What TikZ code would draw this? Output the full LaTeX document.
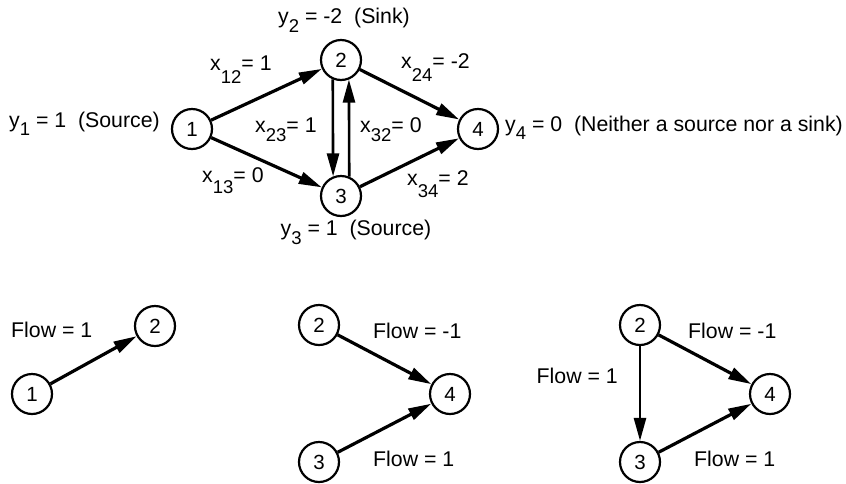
\documentclass[tikz,border=0pt]{standalone}
\usepackage{fontspec}
\setmainfont{Liberation Sans}
\usetikzlibrary{arrows.meta}
\newcommand\lowsub[2]{\raisebox{-#1pt}{\fontsize{18.5}{18.5}\selectfont #2}}
\begin{document}
\begin{tikzpicture}[x=1pt,y=-1pt,
  vtx/.style={circle,draw,line width=2.2pt,minimum size=40pt,inner sep=0pt,font=\fontsize{20.5}{24}\selectfont},
  lbl/.style={inner sep=0pt,font=\fontsize{21.3}{25}\selectfont},
  thickarrow/.style={line width=3.2pt,-{Triangle[length=23pt,width=12pt]}},
  medarrow/.style={line width=2.6pt,-{Triangle[length=23pt,width=12pt]}}]
\useasboundingbox (0,0) rectangle (846,483);

% top graph
\node[vtx] (t1) at (192,129) {1};
\node[vtx] (t2) at (341,60) {2};
\node[vtx] (t3) at (341,196) {3};
\node[vtx] (t4) at (478,129) {4};

\draw[thickarrow] (t1) -- (t2);
\draw[thickarrow] (t1) -- (t3);
\draw[thickarrow] (t2) -- (t4);
\draw[thickarrow] (t3) -- (t4);
\draw[medarrow] (t2.247.7) -- (t3.112.3);
\draw[medarrow] (t3.67.7) -- (t2.292.3);

\node[lbl,anchor=base west] (ly2) at (278,23) {y\lowsub{9}{2} = -2~~(Sink)};
\node[lbl,anchor=base west] (ly1) at (9,127) {y\lowsub{8}{1} = 1~~(Source)};
\node[lbl,anchor=base] (ly3) at (356,235) {y\lowsub{9}{3} = 1~~(Source)};
\node[lbl,anchor=base west] (ly4) at (505,131) {y\lowsub{8}{4} = 0~~(Neither a source nor a sink)};

\node[lbl,anchor=base west] (lx12) at (210,70) {x\lowsub{13}{12}= 1};
\node[lbl,anchor=base west] (lx13) at (202,182) {x\lowsub{11}{13}= 0};
\node[lbl,anchor=base west] (lx23) at (255,132) {x\lowsub{9}{23}= 1};
\node[lbl,anchor=base west] (lx32) at (360,132) {x\lowsub{9}{32}= 0};
\node[lbl,anchor=base west] (lx24) at (401,68) {x\lowsub{13}{24}= -2};
\node[lbl,anchor=base west] (lx34) at (407,185) {x\lowsub{12}{34}= 2};

% bottom panel 1
\node[vtx] (a1) at (32,394) {1};
\node[vtx] (a2) at (155,326) {2};
\draw[thickarrow] (a1) -- (a2);
\node[lbl,anchor=base west] (fa) at (11,337) {Flow = 1};

% bottom panel 2
\node[vtx] (b2) at (319,325) {2};
\node[vtx] (b4) at (450,394) {4};
\node[vtx] (b3) at (319,462) {3};
\draw[thickarrow] (b2) -- (b4);
\draw[thickarrow] (b3) -- (b4);
\node[lbl,anchor=base west] (fb1) at (373,338) {Flow = -1};
\node[lbl,anchor=base west] (fb2) at (373,466) {Flow = 1};

% bottom panel 3
\node[vtx] (c2) at (640,325) {2};
\node[vtx] (c4) at (770,394) {4};
\node[vtx] (c3) at (640,462) {3};
\draw[thickarrow] (c2) -- (c4);
\draw[thickarrow] (c3) -- (c4);
\draw[medarrow] (c2) -- (c3);
\node[lbl,anchor=base west] (fc1) at (688,338) {Flow = -1};
\node[lbl,anchor=base west] (fc2) at (694,466) {Flow = 1};
\node[lbl,anchor=base east] (fc3) at (618,383) {Flow = 1};
\end{tikzpicture}
\end{document}
